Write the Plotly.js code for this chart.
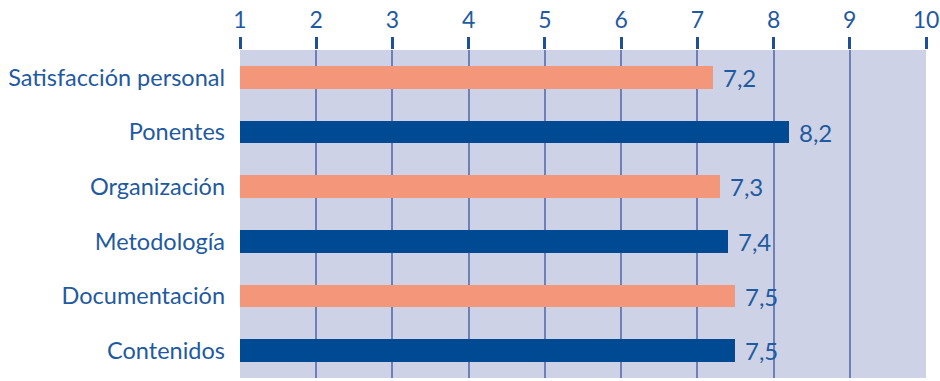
<!DOCTYPE html>
<html>
<head>
<meta charset="utf-8">
<script src="https://cdn.plot.ly/plotly-3.0.1.min.js"></script>
<style>
  html, body { margin: 0; padding: 0; background: #ffffff; }
  #chart { width: 940px; height: 381px; }
</style>
</head>
<body>
<div id="chart"></div>
<script>
// Valoración media por aspecto (escala 1–10)
const categories = [
  'Satisfacción personal',
  'Ponentes',
  'Organización',
  'Metodología',
  'Documentación',
  'Contenidos'
];
const values = [7.2, 8.2, 7.3, 7.4, 7.5, 7.5];
const barColors = ['#f4967a', '#004a94', '#f4967a', '#004a94', '#f4967a', '#004a94'];
const tickValues = [1, 2, 3, 4, 5, 6, 7, 8, 9, 10];

const textColor = '#1f5aa0';
const fontFamily = 'Lato, "Open Sans", sans-serif';

const fmt = v => v.toFixed(1).replace('.', ',');

// bars start at the axis origin (1), so lengths are value - 1
const trace = {
  type: 'bar',
  orientation: 'h',
  y: categories,
  x: values.map(v => v - 1),
  base: 1,
  width: 0.42,
  marker: { color: barColors, line: { width: 0 } },
  hoverinfo: 'skip'
};

const annotations = values.map((v, i) => ({
  x: v,
  y: categories[i],
  xref: 'x',
  yref: 'y',
  text: fmt(v),
  showarrow: false,
  xanchor: 'left',
  yanchor: 'middle',
  xshift: 8,
  font: { family: fontFamily, size: 24, color: textColor }
}));

const layout = {
  width: 940,
  height: 381,
  margin: { l: 240, r: 14, t: 50, b: 3, pad: 0 },
  paper_bgcolor: '#ffffff',
  plot_bgcolor: '#cdd2e6',
  showlegend: false,
  bargap: 0,
  xaxis: {
    side: 'top',
    range: [1, 10],
    tickvals: tickValues,
    ticktext: tickValues.map(String),
    ticks: 'outside',
    ticklen: 12,
    tickwidth: 3,
    tickcolor: '#1f4f96',
    showgrid: true,
    gridcolor: '#6f80b8',
    gridwidth: 2,
    zeroline: false,
    showline: false,
    tickfont: { family: fontFamily, size: 23, color: textColor },
    fixedrange: true
  },
  yaxis: {
    type: 'category',
    autorange: 'reversed',
    showgrid: false,
    zeroline: false,
    showline: false,
    ticks: '',
    ticklabelstandoff: 14,
    tickfont: { family: fontFamily, size: 23.5, color: textColor },
    fixedrange: true
  },
  annotations: annotations
};

Plotly.newPlot('chart', [trace], layout, { displayModeBar: false, staticPlot: true });
</script>
</body>
</html>
